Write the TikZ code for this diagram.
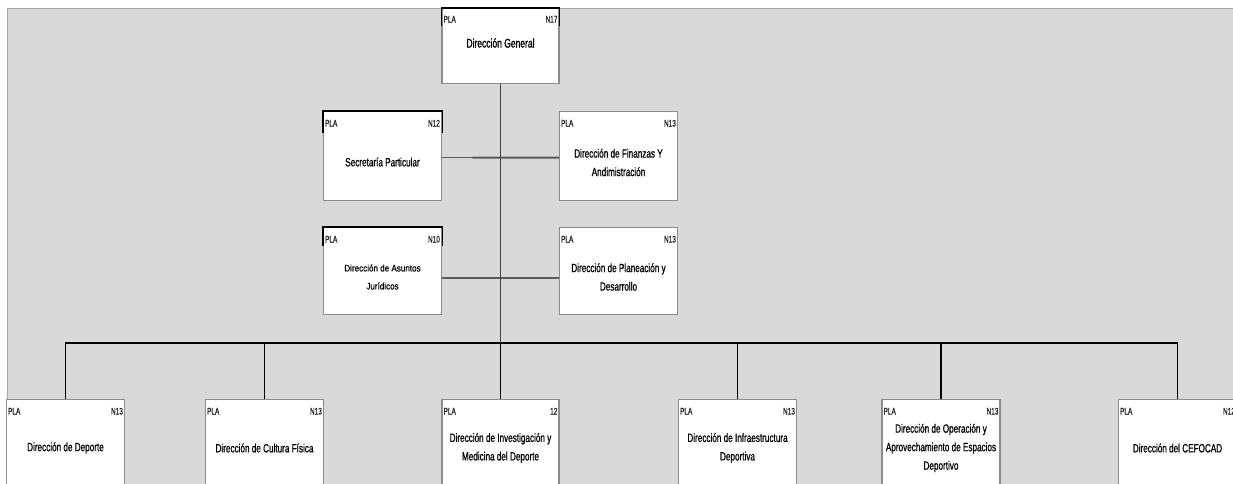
\documentclass[tikz,border=0pt]{standalone}
\usepackage{fontspec}
\setmainfont{Liberation Sans}
\newfontfamily\boxfont[FakeStretch=0.68,FakeBold=0.8]{Liberation Sans}
\newfontfamily\titlefont[FakeStretch=0.68,FakeBold=1.4]{Liberation Sans}
\newfontfamily\jurfont[FakeStretch=0.85,FakeBold=0.6]{Liberation Sans}
\newfontfamily\tagfont[FakeStretch=0.68,FakeBold=0.5]{Liberation Sans}
\usetikzlibrary{calc}
\definecolor{bgfill}{HTML}{D9D9D9}
\definecolor{bgline}{HTML}{A6A6A6}
\definecolor{boxline}{HTML}{8C8C8C}
\definecolor{sidegray}{HTML}{5A5A5A}
\definecolor{trunkgray}{HTML}{404040}
\definecolor{tagcol}{HTML}{1E1E1E}
\begin{document}
\begin{tikzpicture}[x=1pt,y=-1pt,
  orgbox/.style={draw=boxline, line width=1.2pt, fill=white, minimum width=118pt,
    minimum height=89pt, inner sep=0pt, anchor=north},
  boxtext/.style={font=\boxfont\fontsize{12}{18.5}\selectfont, align=center, inner sep=0pt, text=black},
  titletext/.style={font=\titlefont\fontsize{12.5}{18.5}\selectfont, align=center, inner sep=0pt, text=black},
  jurtext/.style={font=\jurfont\fontsize{9.5}{18}\selectfont, align=center, inner sep=0pt, text=black},
  tag/.style={font=\tagfont\fontsize{9.5}{10}\selectfont, inner sep=0pt, text=tagcol},
  link/.style={draw=black, line width=1.3pt},
  trunk/.style={draw=trunkgray, line width=1.3pt},
  sidethin/.style={draw=sidegray, line width=1.1pt},
  sidethick/.style={draw=sidegray, line width=2.2pt},
  topedge/.style={draw=black, line width=1.2pt}]
\useasboundingbox (0,0) rectangle (1233,483);
\clip (0,0) rectangle (1233,483);
% background
\fill[white] (0,0) rectangle (1233,483);
\fill[bgfill] (7,8) rectangle (1240,490);
\draw[bgline, line width=1pt] (7,490) -- (7,8) -- (1240,8);

% boxes
\node[orgbox, minimum width=117pt, minimum height=75pt] (gen) at (500.5,8) {};
\node[orgbox] (sec) at (382.5,111) {};
\node[orgbox] (fin) at (618.5,111) {};
\node[orgbox, minimum height=87pt] (jur) at (382.5,227) {};
\node[orgbox, minimum height=87pt] (pla) at (618.5,227) {};
\node[orgbox] (d1) at (65.5,399) {};
\node[orgbox] (d2) at (264.5,399) {};
\node[orgbox, minimum width=117pt] (d3) at (500.5,399) {};
\node[orgbox] (d4) at (737.5,399) {};
\node[orgbox] (d5) at (941,399) {};
\node[orgbox] (d6) at (1177.5,399) {};

% dark top edges
\draw[topedge] ([yshift=-18pt]gen.north west) -- (gen.north west) -- (gen.north east) -- ([yshift=-18pt]gen.north east);
\draw[topedge] ([yshift=-22pt]sec.north west) -- (sec.north west) -- (sec.north east) -- ([yshift=-22pt]sec.north east);
\draw[topedge] ([yshift=-19pt]jur.north west) -- (jur.north west) -- (jur.north east) -- ([yshift=-19pt]jur.north east);

% texts
\node[titletext] (gen-t) at ([yshift=-35pt]gen.north) {Dirección General};
\node[boxtext] (sec-t) at ([yshift=-51pt]sec.north) {Secretaría Particular};
\node[boxtext] (fin-t) at ([yshift=-51.5pt]fin.north) {Dirección de Finanzas Y\\Andimistración};
\node[jurtext] (jur-t) at ([yshift=-50pt]jur.north) {Dirección de Asuntos\\Jurídicos};
\node[boxtext] (pla-t) at ([yshift=-50pt]pla.north) {Dirección de Planeación y\\Desarrollo};
\node[boxtext] (d1-t) at ([yshift=-49pt]d1.north) {Dirección de Deporte};
\node[boxtext] (d2-t) at ([yshift=-49pt]d2.north) {Dirección de Cultura Física};
\node[boxtext] (d3-t) at ([yshift=-49pt]d3.north) {Dirección de Investigación y\\Medicina del Deporte};
\node[boxtext] (d4-t) at ([yshift=-49pt]d4.north) {Dirección de Infraestructura\\Deportiva};
\node[boxtext] (d5-t) at ([yshift=-49pt]d5.north) {Dirección de Operación y\\Aprovechamiento de Espacios\\Deportivo};
\node[boxtext] (d6-t) at ([yshift=-49pt]d6.north) {Dirección del CEFOCAD};

% tags
\node[tag, anchor=base west] (gen-a) at ([xshift=2pt,yshift=-14.5pt]gen.north west) {PLA};
\node[tag, anchor=base east] (gen-b) at ([xshift=-2pt,yshift=-14.5pt]gen.north east) {N17};
\foreach \b/\n in {sec/N12, fin/N13, jur/N10, pla/N13, d1/N13, d2/N13, d3/12, d4/N13, d5/N13, d6/N12}{
  \node[tag, anchor=base west] (\b-a) at ([xshift=2pt,yshift=-15.5pt]\b.north west) {PLA};
  \node[tag, anchor=base east] (\b-b) at ([xshift=-2pt,yshift=-15.5pt]\b.north east) {\n};
}

% side connectors
\draw[sidethin] ([yshift=-1.5pt]sec.east) -- ([yshift=-1.5pt]fin.west);
\draw[sidethick] ($([yshift=-1.5pt]sec.east)!0.26!([yshift=-1.5pt]fin.west)$) -- ([yshift=-1.5pt]fin.west);
\draw[sidethick] ([yshift=-6.5pt]jur.east) -- ([yshift=-6.5pt]pla.west);

% trunk and branches
\coordinate (bar) at (500.5,343);
\foreach \d in {d1,d2,d3,d4,d5,d6}{
  \draw[link] (bar) -| (\d.north);
}
\draw[trunk] (gen.south) -- (bar);
\end{tikzpicture}
\end{document}
